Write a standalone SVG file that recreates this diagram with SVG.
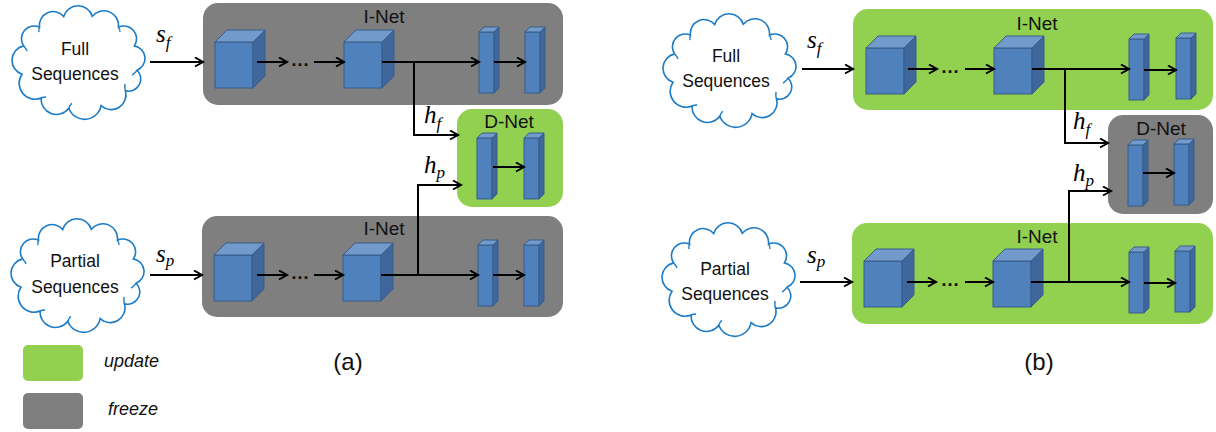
<svg xmlns="http://www.w3.org/2000/svg" xmlns:xlink="http://www.w3.org/1999/xlink" width="1216" height="432" viewBox="0 0 1216 432">
  <style>
    .lbl { font-family: "Liberation Sans", Arial, sans-serif; font-size: 17.5px; fill: #111; }
    .mid { text-anchor: middle; }
    .net { font-size: 19px; }
    .it { font-style: italic; font-size: 18px; }
    .cap { font-size: 24px; }
    .dots { font-size: 19px; font-weight: bold; }
    .math { font-family: "Liberation Serif", "Times New Roman", serif; font-style: italic; font-size: 25px; fill: #000; }
    .sub { font-size: 17px; }
    .freeze { fill: #7F7F7F; }
    .update { fill: #92D050; }
    .cloud { fill: #fff; stroke: #1B7BC7; stroke-width: 1.6; }
    .curl { fill: none; stroke: #1B7BC7; stroke-width: 1.4; }
    .front { fill: #4F81BD; stroke: #385D8A; stroke-width: 1; }
    .top { fill: #729ACB; stroke: #385D8A; stroke-width: 1; }
    .side { fill: #3F679B; stroke: #385D8A; stroke-width: 1; }
    .wire { fill: none; stroke: #000; stroke-width: 2; }
    .arr { marker-end: url(#head); }
  </style>
  <defs>
    <marker id="head" markerUnits="userSpaceOnUse" markerWidth="12" markerHeight="12" refX="9" refY="5" orient="auto">
      <path d="M1,0.5 L9,5 L1,9.5" fill="none" stroke="#000" stroke-width="2"/>
    </marker>
    <!-- cloud outline, local box 142 x 120 -->
    <g id="cloudShape">
      <path class="cloud" d="M15.6,43.9 A12.8,12.8 0 0 1 31.5,25.1 A13.7,13.7 0 0 1 55.7,14.6 A14.9,14.9 0 0 1 84.3,14.2 A14.8,14.8 0 0 1 110.5,25.1 A12.8,12.8 0 0 1 126.4,43.9 A12.7,12.7 0 0 1 129.1,68.2 A12.3,12.3 0 0 1 117.5,88.9 A14.8,14.8 0 0 1 93.1,103.6 A16.8,16.8 0 0 1 60.8,106.3 A15.4,15.4 0 0 1 33.1,96 A15.9,15.9 0 0 1 14,72.2 A14.7,14.7 0 0 1 15.6,43.9 Z"/>
      <path class="curl" d="M15.6,43.9 q2,2 3.5,5"/>
      <path class="curl" d="M31.5,25.1 q-1,2 -0.5,5"/>
      <path class="curl" d="M110.5,25.1 q1.5,2 1.5,5"/>
      <path class="curl" d="M129.1,68.2 q-2,3 -5,5"/>
      <path class="curl" d="M117.5,88.9 q-1,-3 -0.5,-7"/>
      <path class="curl" d="M60.8,106.3 q1,-3 3,-5"/>
      <path class="curl" d="M33.1,96 q2,-1 5,-1"/>
    </g>
    <!-- 3D block: front face origin at (0,0) -->
    <g id="cube">
      <rect class="front" x="0" y="0" width="38" height="46"/>
      <polygon class="top" points="0,0 12,-12 50,-12 38,0"/>
      <polygon class="side" points="38,0 50,-12 50,34 38,46"/>
    </g>
    <g id="bar">
      <rect class="front" x="0" y="0" width="15" height="61"/>
      <polygon class="top" points="0,0 5,-5 20,-5 15,0"/>
      <polygon class="side" points="15,0 20,-5 20,56 15,61"/>
    </g>
  </defs>

  <rect width="1216" height="432" fill="#fff"/>

  <!-- ===== (a) ===== -->
  <g id="a-full">
    <use href="#cloudShape" x="8" y="2"/>
    <text class="lbl mid" x="75" y="55">Full</text>
    <text class="lbl mid" x="75" y="80">Sequences</text>
  </g>
  <g id="a-partial">
    <use href="#cloudShape" x="7" y="215"/>
    <text class="lbl mid" x="75" y="267">Partial</text>
    <text class="lbl mid" x="75" y="293">Sequences</text>
  </g>
  <g id="a-inet-top">
    <rect class="freeze" x="203" y="3" width="360" height="102" rx="15"/>
    <text class="lbl net mid" x="384" y="23">I-Net</text>
    <use href="#cube" x="215" y="42"/>
    <use href="#cube" x="344" y="42"/>
    <use href="#bar" x="479" y="32"/>
    <use href="#bar" x="525" y="32"/>
    <text class="lbl dots mid" x="300" y="66">…</text>
  </g>
  <g id="a-dnet">
    <rect class="update" x="457" y="109" width="106" height="98" rx="15"/>
    <text class="lbl net mid" x="509" y="128">D-Net</text>
    <use href="#bar" x="477" y="138"/>
    <use href="#bar" x="524" y="138"/>
  </g>
  <g id="a-inet-bottom">
    <rect class="freeze" x="202" y="216" width="361" height="101" rx="15"/>
    <text class="lbl net mid" x="384" y="235">I-Net</text>
    <use href="#cube" x="214" y="255"/>
    <use href="#cube" x="343" y="255"/>
    <use href="#bar" x="478" y="245"/>
    <use href="#bar" x="524" y="245"/>
    <text class="lbl dots mid" x="300" y="279">…</text>
  </g>

  <!-- ===== (b) ===== -->
  <g id="b-full">
    <use href="#cloudShape" x="659" y="10"/>
    <text class="lbl mid" x="726" y="62">Full</text>
    <text class="lbl mid" x="726" y="87">Sequences</text>
  </g>
  <g id="b-partial">
    <use href="#cloudShape" x="658" y="219"/>
    <text class="lbl mid" x="725" y="275">Partial</text>
    <text class="lbl mid" x="725" y="300">Sequences</text>
  </g>
  <g id="b-inet-top">
    <rect class="update" x="853" y="9" width="360" height="101" rx="15"/>
    <text class="lbl net mid" x="1037" y="30">I-Net</text>
    <use href="#cube" x="866" y="48"/>
    <use href="#cube" x="994" y="48"/>
    <use href="#bar" x="1129" y="39"/>
    <use href="#bar" x="1176" y="38"/>
    <text class="lbl dots mid" x="950" y="73">…</text>
  </g>
  <g id="b-dnet">
    <rect class="freeze" x="1108" y="115" width="105" height="99" rx="15"/>
    <text class="lbl net mid" x="1161" y="135">D-Net</text>
    <use href="#bar" x="1128" y="145"/>
    <use href="#bar" x="1174" y="144"/>
  </g>
  <g id="b-inet-bottom">
    <rect class="update" x="852" y="223" width="361" height="101" rx="15"/>
    <text class="lbl net mid" x="1037" y="243">I-Net</text>
    <use href="#cube" x="864" y="261"/>
    <use href="#cube" x="993" y="261"/>
    <use href="#bar" x="1129" y="252"/>
    <use href="#bar" x="1175" y="251"/>
    <text class="lbl dots mid" x="950" y="286">…</text>
  </g>

  <!-- ===== connectors ===== -->
  <g id="connectors">
    <!-- (a) top stream -->
    <line class="wire arr" x1="150" y1="62" x2="203" y2="62"/>
    <line class="wire arr" x1="257" y1="62" x2="287" y2="62"/>
    <line class="wire arr" x1="314" y1="62" x2="344" y2="62"/>
    <line class="wire arr" x1="382" y1="62" x2="479" y2="62"/>
    <line class="wire arr" x1="494" y1="62" x2="525" y2="62"/>
    <polyline class="wire arr" points="414,62 414,135 458,135"/>
    <!-- (a) D-Net -->
    <line class="wire arr" x1="493" y1="167" x2="524" y2="167"/>
    <!-- (a) bottom stream -->
    <line class="wire arr" x1="150" y1="275" x2="202" y2="275"/>
    <line class="wire arr" x1="257" y1="275" x2="287" y2="275"/>
    <line class="wire arr" x1="314" y1="275" x2="343" y2="275"/>
    <line class="wire arr" x1="381" y1="275" x2="478" y2="275"/>
    <line class="wire arr" x1="493" y1="275" x2="524" y2="275"/>
    <polyline class="wire arr" points="418,275 418,185 461,185"/>

    <!-- (b) top stream -->
    <line class="wire arr" x1="802" y1="69" x2="853" y2="69"/>
    <line class="wire arr" x1="908" y1="69" x2="937" y2="69"/>
    <line class="wire arr" x1="965" y1="69" x2="994" y2="69"/>
    <line class="wire arr" x1="1032" y1="69" x2="1129" y2="69"/>
    <line class="wire arr" x1="1144" y1="70" x2="1176" y2="70"/>
    <polyline class="wire arr" points="1065,69 1065,143 1108,143"/>
    <!-- (b) D-Net -->
    <line class="wire arr" x1="1143" y1="173" x2="1174" y2="173"/>
    <!-- (b) bottom stream -->
    <line class="wire arr" x1="800" y1="282" x2="852" y2="282"/>
    <line class="wire arr" x1="907" y1="282" x2="936" y2="282"/>
    <line class="wire arr" x1="965" y1="282" x2="993" y2="282"/>
    <line class="wire arr" x1="1031" y1="282" x2="1129" y2="282"/>
    <line class="wire arr" x1="1144" y1="283" x2="1175" y2="283"/>
    <polyline class="wire arr" points="1069,282 1069,191 1111,191"/>
  </g>

  <!-- ===== symbols on the connectors ===== -->
  <g id="math-labels">
    <text class="math" x="156" y="42">s<tspan class="sub" dy="6">f</tspan></text>
    <text class="math" x="156" y="262">s<tspan class="sub" dy="4">p</tspan></text>
    <text class="math" x="424" y="123">h<tspan class="sub" dy="6">f</tspan></text>
    <text class="math" x="424" y="173">h<tspan class="sub" dy="5">p</tspan></text>
    <text class="math" x="807" y="48">s<tspan class="sub" dy="6">f</tspan></text>
    <text class="math" x="807" y="263">s<tspan class="sub" dy="4">p</tspan></text>
    <text class="math" x="1073" y="129">h<tspan class="sub" dy="6">f</tspan></text>
    <text class="math" x="1073" y="181">h<tspan class="sub" dy="5">p</tspan></text>
  </g>

  <!-- ===== legend and captions ===== -->
  <g id="legend-update">
    <rect class="update" x="23" y="345" width="60" height="36" rx="5"/>
    <text class="lbl it" x="104" y="367">update</text>
  </g>
  <g id="legend-freeze">
    <rect class="freeze" x="23" y="393" width="60" height="36" rx="5"/>
    <text class="lbl it" x="108" y="415">freeze</text>
  </g>
  <g id="caption-a">
    <text class="lbl cap mid" x="348" y="370">(a)</text>
  </g>
  <g id="caption-b">
    <text class="lbl cap mid" x="1039" y="370">(b)</text>
  </g>
</svg>
